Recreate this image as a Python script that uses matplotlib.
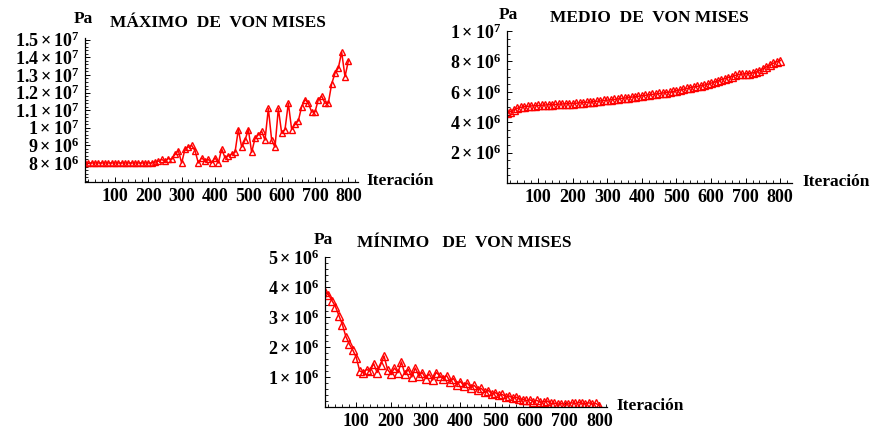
import matplotlib
matplotlib.use("Agg")
import matplotlib.pyplot as plt
from matplotlib.ticker import MultipleLocator, FixedLocator

# iteraciones (muestreadas cada 10)
iteraciones = list(range(10, 801, 10))

# máximo de von Mises (x1e6 Pa)
maximo = [8.0] * 21 + [
    8.05, 8.1, 8.2, 8.1, 8.25, 8.2, 8.5, 8.7, 8.0, 8.8,
    8.9, 9.0, 8.7, 8.0, 8.3, 8.1, 8.2, 8.0, 8.3, 8.0,
    8.8, 8.3, 8.4, 8.5, 8.6, 9.9, 8.9, 9.3, 9.9, 8.6,
    9.4, 9.6, 9.8, 9.3, 11.1, 9.3, 8.9, 11.1, 9.7, 9.9,
    11.4, 9.9, 10.2, 10.4, 11.2, 11.6, 11.4, 10.9, 10.9, 11.6,
    11.8, 11.4, 11.4, 12.5, 13.1, 13.4, 14.3, 12.9, 13.8,
]

# medio de von Mises (x1e6 Pa)
medio = [
    4.60, 4.70, 4.82, 4.92, 4.98, 5.02, 5.05, 5.07, 5.09, 5.10,
    5.12, 5.13, 5.15, 5.16, 5.17, 5.19, 5.20, 5.21, 5.22, 5.23,
    5.25, 5.27, 5.29, 5.31, 5.33, 5.35, 5.38, 5.40, 5.43, 5.45,
    5.48, 5.50, 5.53, 5.56, 5.59, 5.62, 5.65, 5.68, 5.71, 5.74,
    5.77, 5.80, 5.83, 5.86, 5.89, 5.92, 5.95, 5.98, 6.02, 6.07,
    6.12, 6.17, 6.22, 6.27, 6.32, 6.36, 6.40, 6.44, 6.50, 6.57,
    6.64, 6.72, 6.80, 6.87, 6.94, 7.00, 7.08, 7.14, 7.17, 7.18,
    7.20, 7.24, 7.30, 7.40, 7.52, 7.64, 7.76, 7.88, 7.98, 8.05,
]

# mínimo de von Mises (x1e6 Pa)
minimo = [
    3.85, 3.75, 3.55, 3.35, 3.05, 2.75, 2.35, 2.10, 1.90, 1.65,
    1.20, 1.15, 1.25, 1.20, 1.45, 1.15, 1.40, 1.70, 1.25, 1.10,
    1.30, 1.15, 1.50, 1.10, 1.25, 1.00, 1.30, 1.05, 1.15, 0.95,
    1.10, 0.90, 1.15, 1.05, 0.95, 1.05, 0.85, 0.95, 0.75, 0.85,
    0.70, 0.80, 0.65, 0.72, 0.58, 0.62, 0.50, 0.55, 0.45, 0.48,
    0.40, 0.42, 0.35, 0.37, 0.30, 0.33, 0.27, 0.25, 0.22, 0.24,
    0.18, 0.22, 0.16, 0.18, 0.20, 0.12, 0.13, 0.10, 0.11, 0.09,
    0.10, 0.14, 0.12, 0.15, 0.13, 0.11, 0.14, 0.10, 0.12, 0.05,
]

x_ticks = [100, 200, 300, 400, 500, 600, 700, 800]

max_yticks = [8e6, 9e6, 1e7, 1.1e7, 1.2e7, 1.3e7, 1.4e7, 1.5e7]
max_ylabels = [r"$8\times10^{6}$", r"$9\times10^{6}$", r"$1\times10^{7}$",
               r"$1.1\times10^{7}$", r"$1.2\times10^{7}$", r"$1.3\times10^{7}$",
               r"$1.4\times10^{7}$", r"$1.5\times10^{7}$"]
med_yticks = [2e6, 4e6, 6e6, 8e6, 1e7]
med_ylabels = [r"$2\times10^{6}$", r"$4\times10^{6}$", r"$6\times10^{6}$",
               r"$8\times10^{6}$", r"$1\times10^{7}$"]
min_yticks = [1e6, 2e6, 3e6, 4e6, 5e6]
min_ylabels = [r"$1\times10^{6}$", r"$2\times10^{6}$", r"$3\times10^{6}$",
               r"$4\times10^{6}$", r"$5\times10^{6}$"]

plt.rcParams["font.family"] = ["Liberation Serif", "DejaVu Serif"]
plt.rcParams["font.weight"] = "bold"
plt.rcParams["mathtext.fontset"] = "custom"
plt.rcParams["mathtext.rm"] = "Liberation Serif:bold"
plt.rcParams["mathtext.it"] = "Liberation Serif:bold"
plt.rcParams["mathtext.bf"] = "Liberation Serif:bold"
plt.rcParams["mathtext.default"] = "rm"

W, H = 876, 428
fig = plt.figure(figsize=(W / 100, H / 100), dpi=100)
fs = 12.5


def panel(left, right, top, bottom, serie, ylim, xlim, yticks, ylabels, yminor,
          title, title_xy, pa_xy, iter_xy, ms):
    ax = fig.add_axes([left / W, 1 - bottom / H, (right - left) / W, (bottom - top) / H])
    ax.plot(iteraciones, [v * 1e6 for v in serie], color="#ff0000", lw=1.1,
            marker="^", ms=ms, mfc="none", mec="#ff0000", mew=1.0)
    ax.set_xlim(*xlim)
    ax.set_ylim(*ylim)
    for s in ["top", "right"]:
        ax.spines[s].set_visible(False)
    for s in ["left", "bottom"]:
        ax.spines[s].set_linewidth(0.9)
    ax.xaxis.set_major_locator(FixedLocator(x_ticks))
    ax.xaxis.set_minor_locator(MultipleLocator(20))
    ax.set_yticks(yticks)
    ax.set_yticklabels(ylabels)
    ax.yaxis.set_minor_locator(MultipleLocator(yminor))
    ax.tick_params(which="major", direction="in", length=3.5, width=0.7,
                   labelsize=13, pad=4)
    ax.tick_params(which="minor", direction="in", length=2, width=0.6)
    for lab in ax.get_xticklabels():
        lab.set_fontweight("bold")
    fig.text(title_xy[0] / W, 1 - title_xy[1] / H, title, fontsize=fs,
             fontweight="bold", ha="center", va="center")
    fig.text(pa_xy[0] / W, 1 - pa_xy[1] / H, "Pa", fontsize=fs,
             fontweight="bold", ha="center", va="center")
    fig.text(iter_xy[0] / W, 1 - iter_xy[1] / H, "Iteración", fontsize=fs,
             fontweight="bold", ha="left", va="center")
    return ax


panel(85, 358, 38, 182, maximo, (6.92e6, 15.1e6), (10, 829),
      max_yticks, max_ylabels, 2e5,
      "MÁXIMO  DE  VON MISES", (218, 23), (83, 19), (366, 181), 5.0)
panel(507, 792, 31, 183, medio, (0, 1.0e7), (10, 834),
      med_yticks, med_ylabels, 5e5,
      "MEDIO  DE  VON MISES", (649, 18), (508, 15), (802, 182), 5.5)
panel(325, 607, 257, 407, minimo, (0, 5e6), (10, 822),
      min_yticks, min_ylabels, 2e5,
      "MÍNIMO   DE  VON MISES", (464, 243), (323, 240), (616, 406), 5.5)

fig.savefig("out.png", dpi=100)
